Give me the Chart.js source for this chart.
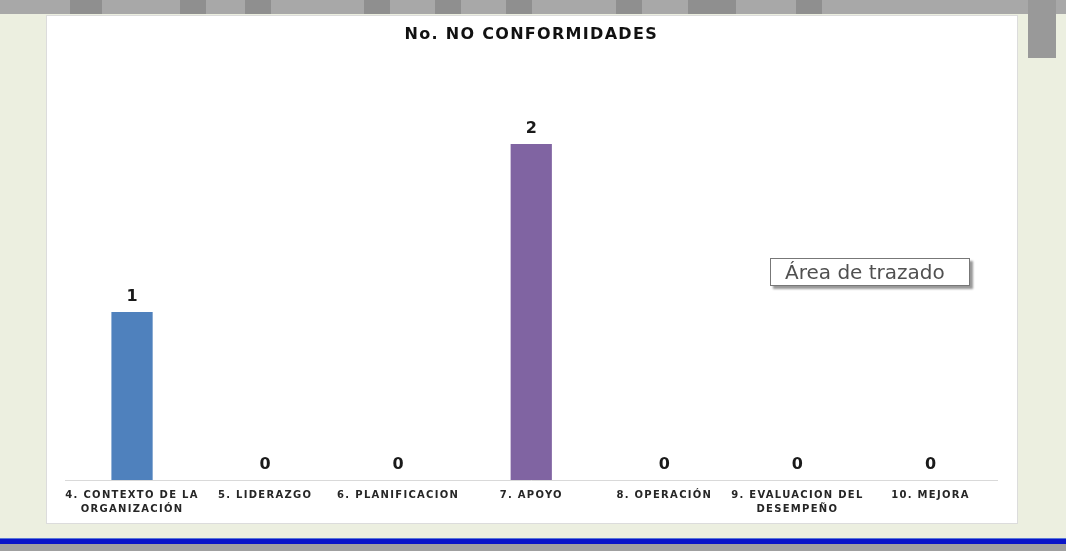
<!DOCTYPE html>
<html>
<head>
<meta charset="utf-8">
<script src="https://cdn.jsdelivr.net/npm/chart.js"></script>
<style>
  html, body { margin: 0; padding: 0; }
  body { width: 1066px; height: 551px; background: #ECEFE0; position: relative; overflow: hidden; }
  .band { position: absolute; left: 0; top: 0; width: 1066px; height: 14px; background: #A8A8A8; }
  .blk { position: absolute; top: 0; height: 14px; background: #8F8F8F; }
  .rbar { position: absolute; left: 1028px; top: 0; width: 28px; height: 58px; background: #999; }
  .panel { position: absolute; left: 46px; top: 15px; width: 970px; height: 507px; background: #fff; border: 1px solid #DCDCDC; }
  .panel canvas { position: absolute; left: 0; top: 0; }
  .tip { position: absolute; left: 770px; top: 258px; width: 200px; height: 28px; background: #fff; border: 1px solid #777;
         box-shadow: 3px 3px 2px #999; font: 20px "DejaVu Sans", sans-serif; color: #505050; line-height: 27px; padding-left: 14px; box-sizing: border-box; }
  .blue { position: absolute; left: 0; top: 538px; width: 1066px; height: 5px; background: #0A14C8; border-top: 1px solid #5A78D8; }
  .gray { position: absolute; left: 0; top: 544px; width: 1066px; height: 7px; background: #A0A0A0; }
</style>
</head>
<body>
<div class="band"></div>
<div class="blk" style="left:70px;width:32px"></div>
<div class="blk" style="left:180px;width:26px"></div>
<div class="blk" style="left:245px;width:26px"></div>
<div class="blk" style="left:364px;width:26px"></div>
<div class="blk" style="left:435px;width:26px"></div>
<div class="blk" style="left:506px;width:26px"></div>
<div class="blk" style="left:616px;width:26px"></div>
<div class="blk" style="left:688px;width:48px"></div>
<div class="blk" style="left:796px;width:26px"></div>
<div class="rbar"></div>
<div class="panel"><canvas id="chart" width="970" height="507"></canvas></div>
<div class="tip">Área de trazado</div>
<div class="blue"></div>
<div class="gray"></div>
<script>
const categories = [
  ['4. CONTEXTO DE LA', 'ORGANIZACIÓN'],
  '5. LIDERAZGO',
  '6. PLANIFICACION',
  '7. APOYO',
  '8. OPERACIÓN',
  ['9. EVALUACION DEL', 'DESEMPEÑO'],
  '10. MEJORA'
];
const values = [1, 0, 0, 2, 0, 0, 0];
const barColors = ['#4F81BD', '#C0504D', '#9BBB59', '#8064A2', '#4BACC6', '#F79646', '#2C4D75'];

// wide spaced text for title and category labels, as in the Excel picture
const spacing = {
  id: 'spacing',
  beforeDraw(chart) { chart.ctx.letterSpacing = '1.3px'; },
  beforeDatasetsDraw(chart) { chart.ctx.letterSpacing = '0px'; }
};

const valueLabels = {
  id: 'valueLabels',
  afterDatasetsDraw(chart) {
    const ctx = chart.ctx;
    ctx.save();
    ctx.font = 'bold 16px "DejaVu Sans"';
    ctx.fillStyle = '#1A1A1A';
    ctx.textAlign = 'center';
    ctx.textBaseline = 'middle';
    chart.getDatasetMeta(0).data.forEach((bar, i) => {
      ctx.fillText(values[i], bar.x, bar.y - 15);
    });
    ctx.restore();
  }
};

new Chart(document.getElementById('chart'), {
  type: 'bar',
  data: {
    labels: categories,
    datasets: [{
      data: values,
      backgroundColor: barColors,
      categoryPercentage: 1,
      barPercentage: 0.31
    }]
  },
  options: {
    responsive: false,
    animation: false,
    layout: { padding: { left: 18.5, right: 20, top: 0, bottom: 3 } },
    plugins: {
      legend: { display: false },
      tooltip: { enabled: false },
      title: {
        display: true,
        text: 'No. NO CONFORMIDADES',
        color: '#111',
        font: { family: 'DejaVu Sans', size: 16, weight: 'bold', lineHeight: 1.2 },
        padding: { top: 9.4, bottom: 99.4 }
      }
    },
    scales: {
      x: {
        grid: { display: false, drawTicks: false },
        border: { display: true, color: '#D9D9D9' },
        ticks: {
          color: '#262626',
          font: { family: 'DejaVu Sans', size: 10, weight: 'bold', lineHeight: 1.4 },
          padding: 8,
          maxRotation: 0,
          autoSkip: false
        },
        afterFit(scale) { scale.height = 40; }
      },
      y: { display: false, min: 0, max: 2 }
    }
  },
  plugins: [spacing, valueLabels]
});
</script>
</body>
</html>
